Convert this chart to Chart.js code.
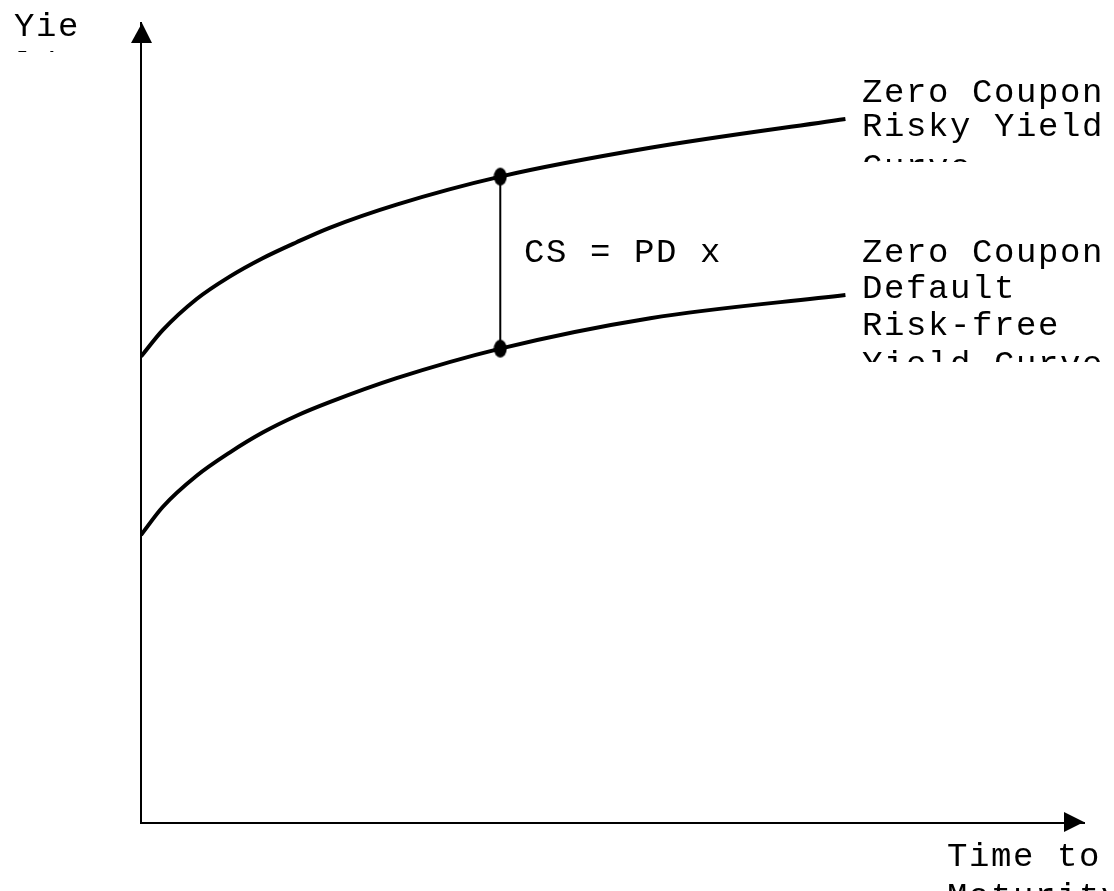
<!DOCTYPE html>
<html>
<head>
<meta charset="utf-8">
<script src="https://cdn.jsdelivr.net/npm/chart.js@4"></script>
<style>
  html, body { margin: 0; padding: 0; background: #fff; }
  #wrap { width: 1114px; height: 891px; position: relative; }
</style>
</head>
<body>
<div id="wrap"><canvas id="myChart"></canvas></div>
<script>
// time to maturity (x) and the two zero coupon yield curves
var maturity = [0, 0.23, 0.59, 0.94, 1.29, 1.65, 2.0, 2.71, 3.81, 5.4, 7.47];
var riskyYield = [5.83, 6.16, 6.55, 6.83, 7.06, 7.26, 7.44, 7.73, 8.08, 8.44, 8.80];
var riskFreeYield = [3.60, 3.95, 4.34, 4.63, 4.88, 5.09, 5.26, 5.56, 5.93, 6.31, 6.60];

// the maturity where the credit spread is marked
var spreadAt = 3.81;
var spreadIdx = maturity.indexOf(spreadAt);

var axisTitleY = ['Yie', 'ld'];
var axisTitleX = ['Time to', 'Maturity'];
var riskyLabel = ['Zero Coupon', 'Risky Yield', 'Curve'];
var riskFreeLabel = ['Zero Coupon', 'Default', 'Risk-free', 'Yield Curve'];
var spreadLabel = 'CS = PD x';

function toPoints(xs, ys) {
    return xs.map(function (x, i) { return { x: x, y: ys[i] }; });
}

// slightly tall dot, like the original
var dot = document.createElement('canvas');
dot.width = 14;
dot.height = 20;
var dctx = dot.getContext('2d');
dctx.fillStyle = '#000';
dctx.beginPath();
dctx.ellipse(7, 10, 6.5, 9, 0, 0, Math.PI * 2);
dctx.fill();

var data1 = {
    datasets: [
        {
            label: 'Zero Coupon Risky Yield Curve',
            data: toPoints(maturity, riskyYield),
            borderColor: '#000',
            borderWidth: 4,
            pointRadius: 0,
            cubicInterpolationMode: 'monotone'
        },
        {
            label: 'Zero Coupon Default Risk-free Yield Curve',
            data: toPoints(maturity, riskFreeYield),
            borderColor: '#000',
            borderWidth: 4,
            pointRadius: 0,
            cubicInterpolationMode: 'monotone'
        },
        {
            label: 'Credit spread',
            data: [
                { x: spreadAt, y: riskyYield[spreadIdx] },
                { x: spreadAt, y: riskFreeYield[spreadIdx] }
            ],
            borderColor: '#000',
            backgroundColor: '#000',
            borderWidth: 2,
            pointStyle: dot,
            pointRadius: 8
        }
    ]
};

var FONT = '34px "Liberation Mono", "Courier New", monospace';

// arrows at the end of the axes and the text boxes (clipped like the original)
var drawing = {
    id: 'drawing',
    afterDraw: function (chart) {
        var c = chart.ctx;
        var a = chart.chartArea;
        c.save();
        c.fillStyle = '#000';

        c.beginPath();
        c.moveTo(a.left + 1, a.top);
        c.lineTo(a.left - 10, a.top + 20);
        c.lineTo(a.left + 11, a.top + 20);
        c.closePath();
        c.fill();

        c.beginPath();
        c.moveTo(a.right, a.bottom - 1);
        c.lineTo(a.right - 20, a.bottom - 11);
        c.lineTo(a.right - 20, a.bottom + 9);
        c.closePath();
        c.fill();

        c.font = FONT;
        c.letterSpacing = '1.6px';
        c.textBaseline = 'alphabetic';

        function box(lines, x, ys, clipBottom) {
            c.save();
            c.beginPath();
            c.rect(0, 0, chart.width, clipBottom);
            c.clip();
            lines.forEach(function (t, i) { c.fillText(t, x, ys[i]); });
            c.restore();
        }

        box(axisTitleY, 14, [36, 75], 52);
        box(riskyLabel, 862, [102, 136, 177], 162);
        box(riskFreeLabel, 862, [262, 298, 335, 374], 362);
        box([spreadLabel], 524, [262], chart.height);
        box(axisTitleX, 947, [866, 906], chart.height);

        c.restore();
    }
};

var options = {
    responsive: true,
    maintainAspectRatio: false,
    animation: false,
    layout: { padding: { top: 23, right: 30, left: 0, bottom: 0 }, autoPadding: false },
    plugins: {
        legend: { display: false },
        tooltip: { enabled: false }
    },
    scales: {
        x: {
            type: 'linear',
            min: 0,
            max: 10,
            grid: { display: false },
            ticks: { display: false },
            border: { display: true, color: '#000', width: 2 },
            afterFit: function (s) { s.height = 68; }
        },
        y: {
            type: 'linear',
            min: 0,
            max: 10,
            grid: { display: false },
            ticks: { display: false },
            border: { display: true, color: '#000', width: 2 },
            afterFit: function (s) { s.width = 141; }
        }
    }
};

var ctx1 = document.getElementById('myChart').getContext('2d');
var myChart = new Chart(ctx1, {
    type: 'line',
    data: data1,
    options: options,
    plugins: [drawing]
});
</script>
</body>
</html>
